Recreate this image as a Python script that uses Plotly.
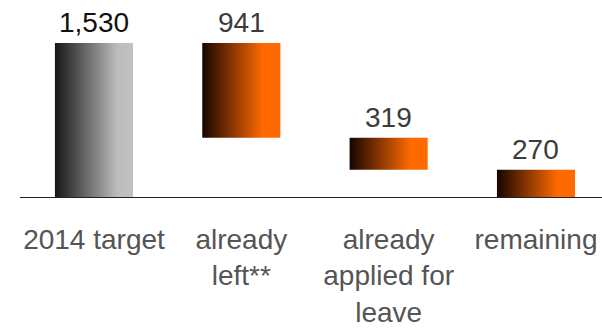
import plotly.graph_objects as go

categories = ["2014 target", "already<br>left**", "already<br>applied for<br>leave", "remaining"]
values = [1530, 941, 319, 270]
value_labels = ["1,530", "941", "319", "270"]
kinds = ["total", "relative", "relative", "relative"]

# waterfall geometry derived from the values
tops, bottoms = [], []
level = 0
for v, k in zip(values, kinds):
    if k == "total":
        tops.append(v); bottoms.append(0); level = v
    else:
        tops.append(level); bottoms.append(level - v); level -= v

gray_scale = [[0, "#161616"], [0.8, "#bcbcbc"], [1, "#c2c2c2"]]
orange_scale = [[0, "#160500"], [0.78, "#ff6a00"], [1, "#ff6a00"]]

fig = go.Figure()
half = 0.265
for i in range(len(values)):
    xs = [i - half, i + half, i + half, i - half, i - half]
    ys = [bottoms[i], bottoms[i], tops[i], tops[i], bottoms[i]]
    fig.add_trace(go.Scatter(
        x=xs, y=ys, mode="lines", fill="toself",
        line=dict(width=0, color="rgba(0,0,0,0)"),
        fillgradient=dict(type="horizontal",
                          colorscale=gray_scale if kinds[i] == "total" else orange_scale),
        hoverinfo="skip", showlegend=False))
    fig.add_annotation(x=i, y=tops[i], text=value_labels[i], showarrow=False,
                       yanchor="bottom", yshift=3,
                       font=dict(family="Liberation Sans, Arial, sans-serif", size=28,
                                 color="#111111" if i == 0 else "#3c3c3c"))

fig.update_layout(
    width=602, height=328,
    margin=dict(l=20, r=0, t=0, b=131, autoexpand=False),
    paper_bgcolor="white", plot_bgcolor="white",
    xaxis=dict(range=[-0.502, 3.448], tickmode="array",
               tickvals=list(range(len(categories))), ticktext=categories,
               showgrid=False, zeroline=False, showline=True, automargin=False,
               linecolor="#222222", linewidth=1.3, ticks="",
               ticklabelstandoff=17,
               tickfont=dict(family="Liberation Sans, Arial, sans-serif", size=28, color="#555555")),
    yaxis=dict(range=[0, 1957], visible=False, showgrid=False, zeroline=False),
)

fig.write_html("out.html")
